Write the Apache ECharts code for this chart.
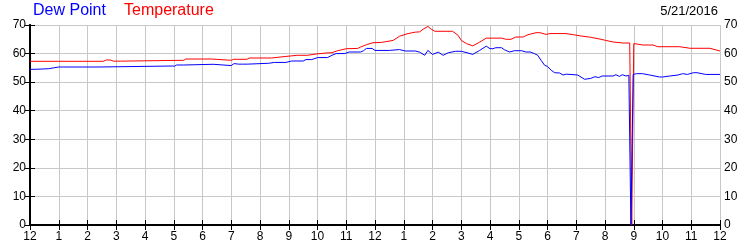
<!DOCTYPE html>
<html>
<head>
<meta charset="utf-8">
<script src="https://cdn.jsdelivr.net/npm/echarts@6/dist/echarts.min.js"></script>
<style>
html,body{margin:0;padding:0;background:#fff;}
#c{width:750px;height:250px;}
</style>
</head>
<body>
<div id="c"></div>
<script>
var hourTickLabels = ['12','1','2','3','4','5','6','7','8','9','10','11','12','1','2','3','4','5','6','7','8','9','10','11','12'];
var yTicks = [0,10,20,30,40,50,60,70];

var tempHours = [0,1.0,2.55,2.65,2.8,2.9,3.15,3.2,5.35,5.42,6.3,6.35,7.0,7.08,7.55,7.62,8.4,8.9,9.3,9.65,9.95,10.3,10.5,10.7,11.0,11.4,11.5,11.7,11.93,12.22,12.63,12.86,13.15,13.4,13.55,13.67,13.84,13.96,14.08,14.7,14.89,15.0,15.18,15.4,15.64,15.87,16.4,16.56,16.73,16.9,17.15,17.32,17.6,17.74,17.95,18.08,18.64,18.9,19.17,19.5,19.86,20.03,20.28,20.63,20.86,20.93,21.0,21.32,21.67,21.84,22.6,22.96,23.65,24.0];
var tempValues = [57.3,57.3,57.3,57.75,57.75,57.35,57.35,57.65,57.65,58.1,58.1,57.65,57.65,58.0,58.0,58.45,58.45,59.0,59.4,59.4,59.85,60.2,60.3,61.0,61.7,61.8,62.3,63.1,63.8,63.9,64.6,66.1,67.0,67.5,67.6,68.5,69.5,68.5,67.8,67.8,66.4,64.6,63.5,62.7,64.0,65.4,65.4,65.0,65.0,65.8,65.8,66.6,67.3,67.3,66.7,67.0,67.0,66.6,66.15,65.7,65.0,64.6,64.05,63.7,63.7,0,63.5,63.0,63.0,62.4,62.4,61.85,61.85,60.9];

var dewHours = [0,0.2,0.25,0.65,0.7,1.0,1.05,1.12,2.4,2.45,4.95,5.03,5.1,5.35,5.4,6.37,6.42,7.0,7.1,7.25,7.4,7.55,7.6,8.3,8.5,8.9,9.1,9.5,9.6,9.8,10.0,10.35,10.5,10.65,10.95,11.1,11.5,11.6,11.7,11.9,12.0,12.5,12.85,13.05,13.4,13.55,13.73,13.84,14.0,14.2,14.37,14.55,14.8,15.0,15.2,15.4,15.64,15.87,16.0,16.1,16.2,16.4,16.5,16.68,16.85,17.1,17.25,17.4,17.55,17.66,17.78,17.9,18.0,18.13,18.25,18.3,18.42,18.54,18.65,18.7,19.05,19.1,19.29,19.5,19.65,19.78,19.9,20.28,20.38,20.5,20.6,20.73,20.83,20.9,20.98,21.1,21.3,21.55,21.9,22.0,22.25,22.54,22.7,22.87,23.07,23.2,23.5,24.0];
var dewValues = [54.5,54.5,54.7,54.7,55.3,55.3,55.0,55.3,55.3,55.65,55.65,55.6,56.0,56.0,56.25,56.25,55.8,55.8,56.5,56.3,56.3,56.3,56.6,56.6,56.9,56.9,57.4,57.4,57.9,57.9,58.6,58.6,59.4,60.0,60.0,60.55,60.55,61.0,61.8,61.8,61.1,61.1,61.4,60.9,60.9,60.5,59.4,61.1,59.7,60.5,59.4,60.3,60.8,60.8,60.3,59.7,61.1,62.6,61.7,61.7,62.05,62.05,61.35,60.55,61.0,61.0,60.55,60.55,59.96,59.4,57.6,55.9,55.5,54.15,53.3,53.8,53.2,52.5,52.8,52.5,52.5,52.8,51.0,51.3,51.9,51.6,52.15,52.15,52.6,52.0,52.6,52.15,52.4,0,52.7,52.97,52.97,52.5,51.8,51.8,52.15,52.5,52.97,52.7,53.3,53.3,52.7,52.7];

function zip(xs, ys){ var out=[]; for (var i=0;i<xs.length;i++) out.push([xs[i], ys[i]]); return out; }

var chart = echarts.init(document.getElementById('c'), null, {renderer:'canvas'});
var labelFont = {color:'#000', fontSize:12, fontFamily:'Liberation Sans, Arial, sans-serif'};
var tickStyle = {show:true, inside:true, length:5, lineStyle:{color:'#000', width:1}};
var axisLineStyle = {show:true, lineStyle:{color:'#000', width:2}};
var gridLine = {show:true, lineStyle:{color:'#c8c8c8', width:1, type:'solid'}};

chart.setOption({
  animation:false,
  backgroundColor:'#fff',
  grid:{left:30, right:30, top:25, bottom:25, containLabel:false},
  graphic:[
    {type:'text', left:33, top:3, style:{text:'Dew Point', fill:'#0000ff', font:'16px Liberation Sans, Arial, sans-serif'}},
    {type:'text', left:124, top:3, style:{text:'Temperature', fill:'#ff0000', font:'16px Liberation Sans, Arial, sans-serif'}},
    {type:'text', right:32, top:5, style:{text:'5/21/2016', fill:'#000', font:'13px Liberation Sans, Arial, sans-serif'}}
  ],
  xAxis:[
    {type:'value', min:0, max:24, interval:1, position:'bottom',
     axisLine:axisLineStyle, axisTick:tickStyle, splitLine:gridLine,
     axisLabel:Object.assign({margin:6, formatter:function(v){return hourTickLabels[Math.round(v)];}}, labelFont)},
    {type:'value', min:0, max:24, interval:1, position:'top',
     axisLine:axisLineStyle, axisTick:tickStyle, splitLine:{show:false}, axisLabel:{show:false}}
  ],
  yAxis:[
    {type:'value', min:yTicks[0], max:yTicks[yTicks.length-1], interval:10, position:'left',
     axisLine:axisLineStyle, axisTick:tickStyle, splitLine:gridLine,
     axisLabel:Object.assign({margin:4}, labelFont)},
    {type:'value', min:yTicks[0], max:yTicks[yTicks.length-1], interval:10, position:'right',
     axisLine:axisLineStyle, axisTick:tickStyle, splitLine:{show:false},
     axisLabel:Object.assign({margin:4}, labelFont)}
  ],
  series:[
    {name:'Temperature', type:'line', data:zip(tempHours, tempValues), showSymbol:false, symbol:'none',
     lineStyle:{color:'#ff0000', width:1}, itemStyle:{color:'#ff0000'}, z:2},
    {name:'Dew Point', type:'line', data:zip(dewHours, dewValues), showSymbol:false, symbol:'none',
     lineStyle:{color:'#0000ff', width:1}, itemStyle:{color:'#0000ff'}, z:3}
  ]
});
</script>
</body>
</html>
